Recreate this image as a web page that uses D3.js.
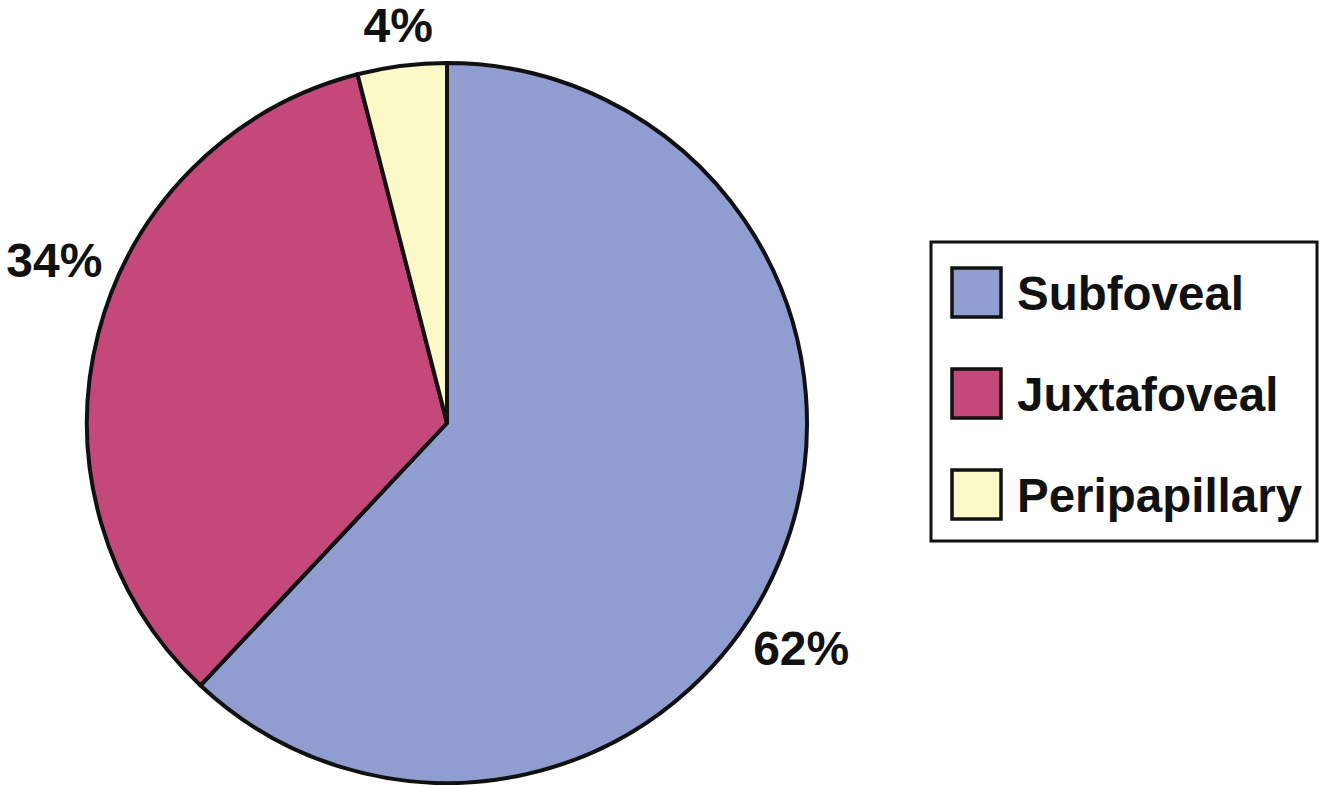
<!DOCTYPE html>
<html>
<head>
<meta charset="utf-8">
<script src="https://cdn.jsdelivr.net/npm/d3@7"></script>
<style>
  html, body { margin: 0; padding: 0; background: #fff; }
  svg { display: block; }
  text { font-family: "Liberation Sans", Arial, Helvetica, sans-serif; font-weight: bold; fill: #111; }
</style>
</head>
<body>
<script>
const width = 1320;
const height = 785;

// data
const categories = ["Subfoveal", "Juxtafoveal", "Peripapillary"];
const values = [62, 34, 4];
const colors = ["#8f9dd0", "#c4497a", "#fcf9c8"];

// layout
const cx = 447, cy = 423, radius = 360;
// where each percentage label sits (radius from centre, angle in degrees clockwise from top)
const labelPlace = [
  { r: 420, a: 122.5 },
  { r: 425, a: 292.5 },
  { r: 400, a: 353 },
];

const svg = d3
  .select("body")
  .append("svg")
  .attr("width", width)
  .attr("height", height);

const pie = d3.pie().sort(null).value((d) => d);
const arcs = pie(values);

const arc = d3.arc().innerRadius(0).outerRadius(radius);

const g = svg.append("g").attr("transform", `translate(${cx},${cy})`);

g.selectAll("path")
  .data(arcs)
  .enter()
  .append("path")
  .attr("d", arc)
  .style("fill", (d, i) => colors[i])
  .style("stroke", "#111")
  .style("stroke-width", 4)
  .style("stroke-linejoin", "round");

const total = d3.sum(values);

g.selectAll("text.pct")
  .data(arcs)
  .enter()
  .append("text")
  .attr("class", "pct")
  .attr("x", (d, i) => labelPlace[i].r * Math.sin((labelPlace[i].a * Math.PI) / 180))
  .attr("y", (d, i) => -labelPlace[i].r * Math.cos((labelPlace[i].a * Math.PI) / 180))
  .attr("text-anchor", "middle")
  .attr("dominant-baseline", "central")
  .style("font-size", "48px")
  .text((d) => Math.round((d.data / total) * 100) + "%");

// legend
const legend = svg.append("g").attr("transform", "translate(931,242)");

legend
  .append("rect")
  .attr("width", 386)
  .attr("height", 299)
  .style("fill", "#fff")
  .style("stroke", "#111")
  .style("stroke-width", 3);

const item = legend
  .selectAll("g.item")
  .data(categories)
  .enter()
  .append("g")
  .attr("class", "item")
  .attr("transform", (d, i) => `translate(0,${26 + i * 101})`);

item
  .append("rect")
  .attr("x", 21)
  .attr("width", 49)
  .attr("height", 49)
  .style("fill", (d, i) => colors[i])
  .style("stroke", "#111")
  .style("stroke-width", 3.5);

item
  .append("text")
  .attr("x", 86)
  .attr("y", 42)
  .style("font-size", "47.5px")
  .text((d) => d);
</script>
</body>
</html>
